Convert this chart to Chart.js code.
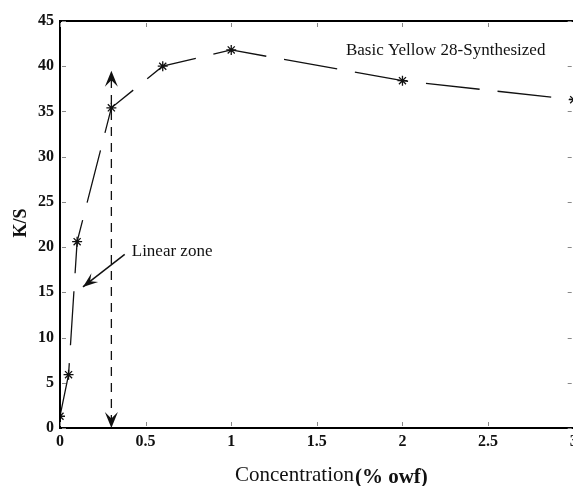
<!DOCTYPE html>
<html>
<head>
<meta charset="utf-8">
<script src="https://cdn.jsdelivr.net/npm/chart.js@4/dist/chart.umd.min.js"></script>
<style>
  html, body { margin: 0; padding: 0; overflow: hidden; background: #fff; }
  #wrap { width: 580px; height: 486px; }
</style>
</head>
<body>
<div id="wrap"><canvas id="line-chart" width="580" height="486"></canvas></div>
<script>
// concentration (% owf) and measured K/S
var concentration = [0, 0.05, 0.1, 0.3, 0.6, 1, 2, 3];
var ksValues = [1.3, 5.9, 20.6, 35.4, 40.0, 41.8, 38.4, 36.3];
var xTicks = [0, 0.5, 1, 1.5, 2, 2.5, 3];
var yTicks = [0, 5, 10, 15, 20, 25, 30, 35, 40, 45];

var titleText = "Basic Yellow 28-Synthesized";
var zoneText = "Linear zone";
var xLabel = "Concentration";
var xUnit = "(% owf)";
var yLabel = "K/S";

var serif = "'Liberation Serif', 'Times New Roman', serif";

function arrowHead(ctx, x, y, dir, len, half) {
  // dir: angle of pointing direction
  ctx.save();
  ctx.translate(x, y);
  ctx.rotate(dir);
  ctx.beginPath();
  ctx.moveTo(0, 0);
  ctx.lineTo(-len, -half);
  ctx.lineTo(-len * 0.6, 0);
  ctx.lineTo(-len, half);
  ctx.closePath();
  ctx.fill();
  ctx.restore();
}

var extras = {
  id: 'extras',
  afterDraw: function(chart) {
    var ctx = chart.ctx;
    var xs = chart.scales.x, ys = chart.scales.y;
    var a = chart.chartArea;
    ctx.save();

    // frame (right side falls off the page)
    ctx.strokeStyle = '#000';
    ctx.lineWidth = 2;
    ctx.beginPath();
    ctx.moveTo(a.right + 2, a.top);
    ctx.lineTo(a.left, a.top);
    ctx.lineTo(a.left, a.bottom);
    ctx.lineTo(a.right + 2, a.bottom);
    ctx.stroke();

    // inner ticks
    ctx.strokeStyle = '#888';
    ctx.lineWidth = 1;
    ctx.beginPath();
    xTicks.forEach(function(v) {
      var px = Math.round(xs.getPixelForValue(v)) + 0.5;
      ctx.moveTo(px, a.bottom - 2); ctx.lineTo(px, a.bottom - 6);
      ctx.moveTo(px, a.top + 2); ctx.lineTo(px, a.top + 6);
    });
    yTicks.forEach(function(v) {
      var py = Math.round(ys.getPixelForValue(v)) + 0.5;
      ctx.moveTo(a.left + 2, py); ctx.lineTo(a.left + 6, py);
      ctx.moveTo(a.right - 6, py); ctx.lineTo(a.right - 2, py);
    });
    ctx.stroke();

    // vertical dashed double arrow at 0.3
    var vx = xs.getPixelForValue(0.3);
    var vTop = ys.getPixelForValue(39.5);
    var vBot = ys.getPixelForValue(0);
    ctx.strokeStyle = '#111';
    ctx.fillStyle = '#111';
    ctx.lineWidth = 1.3;
    ctx.setLineDash([9, 7]);
    ctx.beginPath();
    ctx.moveTo(vx, vBot - 4);
    ctx.lineTo(vx, vTop + 6);
    ctx.stroke();
    ctx.setLineDash([]);
    arrowHead(ctx, vx, vTop, -Math.PI / 2, 16, 6.5);
    arrowHead(ctx, vx, vBot, Math.PI / 2, 16, 6.5);

    // linear zone arrow
    var sx = xs.getPixelForValue(0.378), sy = ys.getPixelForValue(19.2);
    var tx = xs.getPixelForValue(0.134), ty = ys.getPixelForValue(15.6);
    ctx.lineWidth = 1.5;
    ctx.beginPath();
    ctx.moveTo(sx, sy);
    ctx.lineTo(tx, ty);
    ctx.stroke();
    arrowHead(ctx, tx, ty, Math.atan2(ty - sy, tx - sx), 15, 5.5);

    // texts
    ctx.fillStyle = '#111';
    ctx.textBaseline = 'alphabetic';
    ctx.textAlign = 'left';
    ctx.font = '17px ' + serif;
    ctx.fillText(zoneText, xs.getPixelForValue(0.419), ys.getPixelForValue(19.0));
    ctx.font = '17px ' + serif;
    ctx.fillText(titleText, xs.getPixelForValue(1.67), ys.getPixelForValue(41.2));

    // axis titles
    ctx.font = '21px ' + serif;
    ctx.fillText(xLabel, 235, 481);
    var w = ctx.measureText(xLabel).width;
    ctx.font = 'bold 21px ' + serif;
    ctx.fillText(xUnit, 235 + w + 1, 483);

    ctx.save();
    ctx.translate(26, 223);
    ctx.rotate(-Math.PI / 2);
    ctx.textAlign = 'center';
    ctx.font = 'bold 18px ' + serif;
    ctx.fillText(yLabel, 0, 0);
    ctx.restore();

    ctx.restore();
  }
};

var chart = new Chart(document.getElementById("line-chart"), {
  type: 'scatter',
  data: {
    datasets: [{
      label: titleText,
      data: concentration.map(function(c, i) { return { x: c, y: ksValues[i] }; }),
      showLine: true,
      borderColor: '#111',
      backgroundColor: '#111',
      borderWidth: 1.3,
      borderDash: [54, 18],
      pointStyle: 'star',
      pointRadius: 5,
      pointBorderWidth: 1.3,
      tension: 0
    }]
  },
  options: {
    responsive: false,
    animation: false,
    layout: { padding: { top: 21, right: 5, left: 0, bottom: 0 } },
    plugins: {
      legend: { display: false },
      tooltip: { enabled: false }
    },
    scales: {
      x: {
        type: 'linear',
        min: 0,
        max: 3,
        afterBuildTicks: function(s) { s.ticks = xTicks.map(function(v) { return { value: v }; }); },
        afterFit: function(s) { s.height = 58; s.paddingLeft = 0; s.paddingRight = 0; },
        grid: { display: false, drawTicks: false },
        border: { display: false },
        ticks: {
          color: '#111',
          padding: 4,
          autoSkip: false,
          maxRotation: 0,
          callback: function(v) { return String(v); },
          font: { family: serif, size: 16, weight: 'bold' }
        }
      },
      y: {
        min: 0,
        max: 45,
        afterBuildTicks: function(s) { s.ticks = yTicks.map(function(v) { return { value: v }; }); },
        afterFit: function(s) { s.width = 60; s.paddingTop = 0; s.paddingBottom = 0; },
        grid: { display: false, drawTicks: false },
        border: { display: false },
        ticks: {
          color: '#111',
          padding: 6,
          callback: function(v) { return String(v); },
          font: { family: serif, size: 16, weight: 'bold' }
        }
      }
    }
  },
  plugins: [extras]
});
</script>
</body>
</html>
